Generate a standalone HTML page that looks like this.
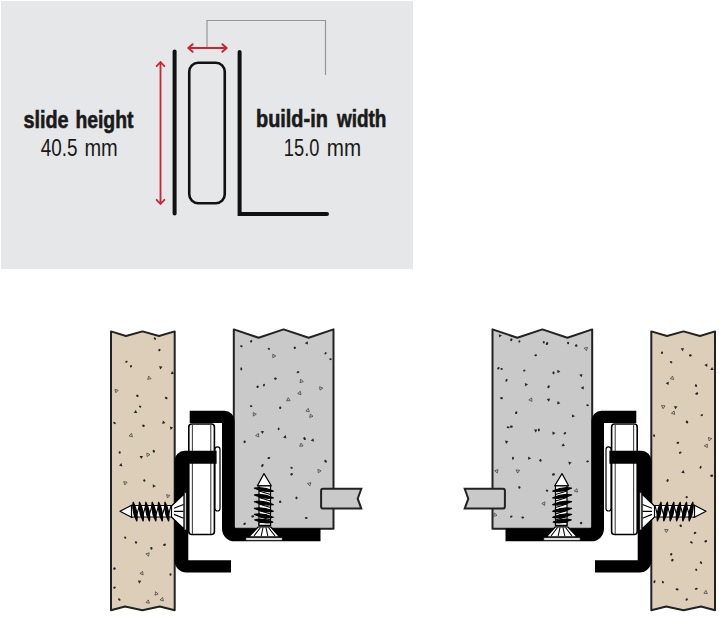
<!DOCTYPE html>
<html><head><meta charset="utf-8">
<style>
html,body{margin:0;padding:0;background:#fff;width:719px;height:617px;overflow:hidden}
svg{display:block}
text{font-family:"Liberation Sans",sans-serif}
</style></head>
<body>
<svg width="719" height="617" viewBox="0 0 719 617">
<defs>
<g id="asmA">
  <!-- wood -->
  <path d="M111,331.4 L126,336 L142.5,331.4 L159,336 L174.7,331.4 L174.7,610.2 L159.8,606.5 L142.4,610.2 L125,606.5 L111,610.2 Z" fill="#ddceba" stroke="#222" stroke-width="2" stroke-linejoin="round"/>
  <!-- gray panel -->
  <path d="M233.8,329.4 L258.6,337.7 L283.6,329.4 L308.7,337.7 L333.5,329.4 L333.5,528.8 L233.8,528.8 Z" fill="#c9c9c9" stroke="#222" stroke-width="2" stroke-linejoin="round"/>
</g>
<g id="asmB">
  <!-- tab -->
  <path d="M323,488.8 H361.3 L357.7,498.7 L361.3,508.6 H323 A2,2 0 0 1 321.1,506.6 V490.8 A2,2 0 0 1 323,488.8 Z" fill="#c9c9c9" stroke="#222" stroke-width="2"/>
  <!-- roller -->
  <rect x="188.8" y="424" width="25.6" height="110.5" rx="3" fill="#fff" stroke="#000" stroke-width="1.6"/>
  <line x1="192.4" y1="424" x2="192.4" y2="534" stroke="#444" stroke-width="1.1"/>
  <line x1="210.8" y1="424" x2="210.8" y2="534" stroke="#444" stroke-width="1.1"/>
  <rect x="215" y="446.8" width="5" height="64.2" rx="2.5" fill="#fff" stroke="#000" stroke-width="1.2"/>
  <!-- upper bracket -->
  <path d="M189.7,410.8 H224.5 A10,10 0 0 1 234.5,420.8 V525.5 A3,3 0 0 0 237.5,528.5 H320.5 V541.3 H234.5 A12.5,12.5 0 0 1 222,528.8 V423 H189.7 Z" fill="#000"/>
  <!-- lower bracket -->
  <path d="M174.5,460.9 A10.2,10.2 0 0 1 184.7,450.8 H216.6 V463.7 H188.3 V560.2 H231 V572.5 H186.5 A12,12 0 0 1 174.5,560.5 Z" fill="#000"/>
  <!-- horizontal screw -->
  <g stroke="#000" stroke-width="1.2" fill="#fff" stroke-linejoin="round">
    <path d="M120,511.3 L132,505 L132,517.5 Z"/>
    <rect x="131.5" y="505.5" width="41" height="11.5"/>
    <path d="M171.5,506 L184,494 L184,529 L171.5,517 Z"/>
    <path d="M174,508.2 L183.5,504.5 M174,511.3 L183.5,511.3 M174,514.4 L183.5,518.2" stroke-width="1.2"/>
    <rect x="184.3" y="492.6" width="2" height="37.4" stroke-width="0.8"/>
  </g>
  <g stroke="#000" stroke-width="1.1" fill="none">
    <path d="M136,517 L139.5,505.5 M142.3,517 L145.8,505.5 M148.6,517 L152.1,505.5 M155.2,517 L158.7,505.5 M161.7,517 L165.2,505.5 M168,517 L171,505.5"/>
  </g>
  <g stroke="#000" stroke-width="1.3" fill="#000" stroke-linejoin="round">
    <path d="M133.2,502.3 Q131.8,511.6 136.8,520.9 Q138.2,511.6 133.2,502.3 Z M139.5,502.3 Q138.1,511.6 143.1,520.9 Q144.5,511.6 139.5,502.3 Z M145.8,502.3 Q144.4,511.6 149.4,520.9 Q150.8,511.6 145.8,502.3 Z M152.2,502.3 Q150.8,511.6 155.8,520.9 Q157.2,511.6 152.2,502.3 Z M158.6,502.3 Q157.2,511.6 162.2,520.9 Q163.6,511.6 158.6,502.3 Z M165.0,502.3 Q163.6,511.6 168.6,520.9 Q170.0,511.6 165.0,502.3 Z"/>
  </g>
  <!-- vertical screw -->
  <g stroke="#000" stroke-width="1.2" fill="#fff" stroke-linejoin="round">
    <path d="M264,473.6 L257.4,485.8 L271.3,485.8 Z"/>
    <rect x="259" y="485.8" width="11.5" height="40"/>
    <rect x="259" y="522.4" width="11.5" height="3"/>
    <path d="M258.2,527 H270.8 L279.6,536.9 H248.8 Z"/>
    <path d="M260.5,527.5 L254,536 M263,527.5 L261.2,536 M266,527.5 L267.8,536 M268.5,527.5 L275,536" stroke-width="1.1"/>
    <rect x="245.8" y="537.7" width="36.5" height="2.6" stroke-width="0.7"/>
  </g>
  <g stroke="#000" stroke-width="1.1" fill="none">
    <path d="M259,491 L270.5,494.5 M259,497.5 L270.5,501 M259,504 L270.5,507.5 M259,510.5 L270.5,514 M259,516.5 L270.5,520"/>
  </g>
  <g stroke="#000" stroke-width="1.3" fill="#000" stroke-linejoin="round">
    <path d="M254.5,488.2 Q263.9,492.9 273.2,491.2 Q263.9,486.5 254.5,488.2 Z M254.5,494.9 Q263.9,499.6 273.2,497.9 Q263.9,493.2 254.5,494.9 Z M254.5,501.6 Q263.9,506.3 273.2,504.6 Q263.9,499.9 254.5,501.6 Z M254.5,508.3 Q263.9,513.0 273.2,511.3 Q263.9,506.6 254.5,508.3 Z M254.5,514.3 Q263.9,519.0 273.2,517.3 Q263.9,512.6 254.5,514.3 Z M254.8,519.8 Q263.9,524.0 272.8,522.2 Q263.9,518.0 254.8,519.8 Z"/>
  </g>
</g>
</defs>
<!-- top panel -->
<rect x="1" y="1" width="412" height="268" fill="#e6e7e8"/>
<path d="M207,48 V20.5 H325.5 V75" fill="none" stroke="#979797" stroke-width="1.2"/>
<g stroke="#c92532" fill="none" stroke-linecap="round" stroke-linejoin="round">
  <path d="M188.3,48 H226.7 M192.6,44.2 L188.3,48 L192.6,51.8 M222.4,44.2 L226.7,48 L222.4,51.8" stroke-width="2"/>
  <path d="M160.5,62 V204 M156.6,66.2 L160.5,62 L164.4,66.2 M156.6,199.8 L160.5,204 L164.4,199.8" stroke-width="1.8"/>
</g>
<g stroke="#111" stroke-width="4" fill="none" stroke-linecap="round">
  <path d="M174.6,51.5 V213.5"/>
  <path d="M239.6,52 V214 H327" stroke-linejoin="miter"/>
</g>
<rect x="189.25" y="62.75" width="35.5" height="140.5" rx="9" fill="none" stroke="#111" stroke-width="2.6"/>
<g fill="#1a1a1a" stroke="#1a1a1a" stroke-width="0.6" font-weight="bold" font-size="23">
<text x="23.40" y="127.5" textLength="45.11" lengthAdjust="spacingAndGlyphs">slide</text>
<text x="75.39" y="127.5" textLength="58.12" lengthAdjust="spacingAndGlyphs">height</text>
<text x="255.97" y="127.3" textLength="71.87" lengthAdjust="spacingAndGlyphs">build-in</text>
<text x="336.90" y="127.3" textLength="49.52" lengthAdjust="spacingAndGlyphs">width</text>
</g>
<g fill="#1a1a1a" font-size="24.5">
<text x="40.84" y="155.8" textLength="36.77" lengthAdjust="spacingAndGlyphs">40.5</text>
<text x="84.40" y="155.8" textLength="33.37" lengthAdjust="spacingAndGlyphs">mm</text>
<text x="283.81" y="155.8" textLength="35.60" lengthAdjust="spacingAndGlyphs">15.0</text>
<text x="326.80" y="155.8" textLength="34.33" lengthAdjust="spacingAndGlyphs">mm</text>
</g>
<!-- bottom assemblies -->
<use href="#asmA"/>
<use href="#asmA" transform="translate(826,0) scale(-1,1)"/>
<g fill="#262626"><ellipse cx="154.9" cy="338.6" rx="1.46" ry="0.92" transform="rotate(54 154.9 338.6)"/><ellipse cx="159.4" cy="350.0" rx="1.22" ry="1.05" transform="rotate(132 159.4 350.0)"/><ellipse cx="126.5" cy="361.7" rx="1.23" ry="0.93" transform="rotate(156 126.5 361.7)"/><ellipse cx="131.0" cy="366.3" rx="1.25" ry="0.97" transform="rotate(298 131.0 366.3)"/><polygon points="162.5,366.7 160.2,369.4 159.1,366.1"/><polygon points="170.7,374.2 172.0,371.0 174.1,373.8"/><polygon points="151.1,378.6 147.7,379.4 148.7,376.1" fill="none" stroke="#333" stroke-width="0.7"/><polygon points="115.8,392.7 114.9,389.4 118.2,390.3" fill="none" stroke="#333" stroke-width="0.7"/><ellipse cx="137.4" cy="395.8" rx="1.32" ry="1.14" transform="rotate(42 137.4 395.8)"/><ellipse cx="166.2" cy="398.0" rx="1.46" ry="1.01" transform="rotate(209 166.2 398.0)"/><ellipse cx="140.1" cy="406.6" rx="1.22" ry="0.96" transform="rotate(23 140.1 406.6)"/><polygon points="133.8,412.9 135.7,410.0 137.3,413.1"/><ellipse cx="114.5" cy="423.0" rx="1.38" ry="0.99" transform="rotate(211 114.5 423.0)"/><polygon points="162.9,420.6 165.5,422.9 162.2,424.0"/><ellipse cx="143.5" cy="425.7" rx="1.41" ry="1.16" transform="rotate(207 143.5 425.7)"/><polygon points="170.7,429.9 169.8,426.6 173.1,427.4"/><polygon points="132.5,436.8 129.1,436.0 131.4,433.4" fill="none" stroke="#333" stroke-width="0.7"/><ellipse cx="119.7" cy="452.4" rx="1.26" ry="1.05" transform="rotate(272 119.7 452.4)"/><ellipse cx="153.8" cy="451.3" rx="1.51" ry="1.07" transform="rotate(240 153.8 451.3)"/><polygon points="147.2,456.5 146.8,453.1 150.0,454.5" fill="none" stroke="#333" stroke-width="0.7"/><polygon points="139.6,455.9 143.1,456.1 141.2,459.0"/><polygon points="119.0,465.5 121.4,463.1 122.3,466.4"/><polygon points="127.1,482.2 124.9,484.9 123.7,481.6" fill="none" stroke="#333" stroke-width="0.7"/><ellipse cx="144.3" cy="480.5" rx="1.22" ry="1.11" transform="rotate(239 144.3 480.5)"/><polygon points="155.8,485.9 152.9,487.8 152.7,484.3"/><polygon points="167.6,498.0 166.5,494.7 169.9,495.4" fill="none" stroke="#333" stroke-width="0.7"/><ellipse cx="125.2" cy="537.6" rx="1.21" ry="1.04" transform="rotate(241 125.2 537.6)"/><ellipse cx="136.0" cy="542.4" rx="1.22" ry="1.13" transform="rotate(42 136.0 542.4)"/><ellipse cx="151.4" cy="548.3" rx="1.36" ry="1.16" transform="rotate(89 151.4 548.3)"/><ellipse cx="164.5" cy="544.8" rx="1.42" ry="1.17" transform="rotate(162 164.5 544.8)"/><polygon points="149.2,552.8 148.6,556.2 145.9,553.9" fill="none" stroke="#333" stroke-width="0.7"/><ellipse cx="114.5" cy="568.6" rx="1.34" ry="1.17" transform="rotate(149 114.5 568.6)"/><polygon points="143.1,574.9 139.9,573.5 142.7,571.5" fill="none" stroke="#333" stroke-width="0.7"/><ellipse cx="170.5" cy="574.5" rx="1.29" ry="1.05" transform="rotate(83 170.5 574.5)"/><polygon points="139.3,583.7 137.9,580.6 141.3,580.8"/><ellipse cx="114.5" cy="587.6" rx="1.35" ry="1.07" transform="rotate(151 114.5 587.6)"/><polygon points="155.5,591.7 158.2,593.9 155.0,595.2" fill="none" stroke="#333" stroke-width="0.7"/><ellipse cx="119.3" cy="599.5" rx="1.47" ry="0.92" transform="rotate(222 119.3 599.5)"/><polygon points="148.3,599.9 149.4,603.2 146.0,602.6" fill="none" stroke="#333" stroke-width="0.7"/><polygon points="162.6,597.6 163.4,601.0 160.1,599.9" fill="none" stroke="#333" stroke-width="0.7"/><ellipse cx="251.1" cy="341.3" rx="1.24" ry="1.09" transform="rotate(144 251.1 341.3)"/><ellipse cx="241.3" cy="346.2" rx="1.28" ry="0.95" transform="rotate(24 241.3 346.2)"/><ellipse cx="268.9" cy="348.8" rx="1.20" ry="0.95" transform="rotate(19 268.9 348.8)"/><ellipse cx="294.8" cy="347.8" rx="1.21" ry="1.16" transform="rotate(131 294.8 347.8)"/><polygon points="308.0,344.6 304.8,343.2 307.6,341.2"/><ellipse cx="325.6" cy="353.3" rx="1.35" ry="0.94" transform="rotate(125 325.6 353.3)"/><polygon points="275.8,355.9 272.9,357.8 272.7,354.3" fill="none" stroke="#333" stroke-width="0.7"/><ellipse cx="330.5" cy="359.2" rx="1.23" ry="0.93" transform="rotate(174 330.5 359.2)"/><ellipse cx="241.3" cy="368.9" rx="1.53" ry="0.95" transform="rotate(95 241.3 368.9)"/><ellipse cx="298.0" cy="372.1" rx="1.41" ry="0.94" transform="rotate(342 298.0 372.1)"/><ellipse cx="275.4" cy="378.6" rx="1.41" ry="1.19" transform="rotate(10 275.4 378.6)"/><polygon points="300.6,379.3 303.3,381.6 300.0,382.7" fill="none" stroke="#333" stroke-width="0.7"/><ellipse cx="257.6" cy="386.7" rx="1.27" ry="1.13" transform="rotate(132 257.6 386.7)"/><ellipse cx="264.0" cy="385.1" rx="1.33" ry="0.97" transform="rotate(280 264.0 385.1)"/><polygon points="322.8,388.1 320.0,390.1 319.6,386.7" fill="none" stroke="#333" stroke-width="0.7"/><polygon points="300.4,391.3 301.0,394.7 297.7,393.5" fill="none" stroke="#333" stroke-width="0.7"/><polygon points="288.2,397.7 290.1,400.6 286.6,400.8" fill="none" stroke="#333" stroke-width="0.7"/><ellipse cx="251.1" cy="406.2" rx="1.34" ry="0.91" transform="rotate(186 251.1 406.2)"/><ellipse cx="280.2" cy="407.8" rx="1.30" ry="1.11" transform="rotate(101 280.2 407.8)"/><polygon points="305.9,411.1 308.2,408.4 309.3,411.7" fill="none" stroke="#333" stroke-width="0.7"/><polygon points="256.3,414.1 253.4,416.1 253.2,412.7" fill="none" stroke="#333" stroke-width="0.7"/><polygon points="309.7,417.4 310.4,414.0 313.0,416.3" fill="none" stroke="#333" stroke-width="0.7"/><ellipse cx="278.6" cy="428.9" rx="1.28" ry="0.96" transform="rotate(82 278.6 428.9)"/><polygon points="264.0,430.9 262.6,434.1 260.6,431.3"/><polygon points="255.6,435.6 258.4,433.5 258.8,436.9" fill="none" stroke="#333" stroke-width="0.7"/><polygon points="285.7,435.1 286.4,438.5 283.1,437.4"/><ellipse cx="304.6" cy="438.6" rx="1.56" ry="1.13" transform="rotate(238 304.6 438.6)"/><polygon points="310.7,440.5 313.4,438.3 313.9,441.8"/><ellipse cx="244.6" cy="441.8" rx="1.33" ry="1.14" transform="rotate(284 244.6 441.8)"/><polygon points="299.7,446.3 301.0,443.1 303.1,445.9" fill="none" stroke="#333" stroke-width="0.7"/><ellipse cx="268.9" cy="458.0" rx="1.49" ry="0.95" transform="rotate(341 268.9 458.0)"/><ellipse cx="325.6" cy="461.3" rx="1.56" ry="1.14" transform="rotate(54 325.6 461.3)"/><ellipse cx="262.4" cy="465.5" rx="1.59" ry="1.10" transform="rotate(297 262.4 465.5)"/><ellipse cx="291.6" cy="467.8" rx="1.25" ry="0.90" transform="rotate(197 291.6 467.8)"/><polygon points="317.9,469.4 321.1,470.8 318.3,472.8" fill="none" stroke="#333" stroke-width="0.7"/><ellipse cx="291.6" cy="474.2" rx="1.37" ry="1.16" transform="rotate(336 291.6 474.2)"/><polygon points="309.9,485.9 307.5,483.5 310.8,482.6" fill="none" stroke="#333" stroke-width="0.7"/><ellipse cx="296.5" cy="497.9" rx="1.30" ry="1.08" transform="rotate(105 296.5 497.9)"/><ellipse cx="280.2" cy="501.8" rx="1.25" ry="1.17" transform="rotate(151 280.2 501.8)"/><ellipse cx="252.7" cy="516.4" rx="1.43" ry="1.17" transform="rotate(165 252.7 516.4)"/><ellipse cx="244.6" cy="523.8" rx="1.40" ry="1.06" transform="rotate(330 244.6 523.8)"/><ellipse cx="306.2" cy="518.0" rx="1.38" ry="0.95" transform="rotate(7 306.2 518.0)"/><ellipse cx="662.0" cy="352.7" rx="1.27" ry="1.04" transform="rotate(288 662.0 352.7)"/><polygon points="680.6,348.6 684.0,348.0 682.8,351.3"/><ellipse cx="690.4" cy="355.4" rx="1.42" ry="1.14" transform="rotate(187 690.4 355.4)"/><ellipse cx="671.1" cy="362.2" rx="1.30" ry="0.98" transform="rotate(202 671.1 362.2)"/><polygon points="704.3,365.1 707.4,363.5 707.2,367.0"/><polygon points="712.1,367.0 713.7,370.1 710.2,369.9"/><polygon points="670.3,378.8 672.5,376.1 673.7,379.4" fill="none" stroke="#333" stroke-width="0.7"/><polygon points="665.7,383.2 668.8,381.6 668.6,385.1"/><ellipse cx="696.0" cy="385.6" rx="1.38" ry="1.06" transform="rotate(249 696.0 385.6)"/><ellipse cx="696.8" cy="393.6" rx="1.48" ry="1.16" transform="rotate(339 696.8 393.6)"/><polygon points="663.1,408.7 661.5,405.6 665.0,405.8" fill="none" stroke="#333" stroke-width="0.7"/><polygon points="677.5,406.5 675.3,409.2 674.1,405.9"/><polygon points="674.7,414.4 671.4,413.3 674.1,411.0" fill="none" stroke="#333" stroke-width="0.7"/><ellipse cx="701.8" cy="415.1" rx="1.23" ry="0.97" transform="rotate(159 701.8 415.1)"/><ellipse cx="687.0" cy="422.0" rx="1.51" ry="1.17" transform="rotate(241 687.0 422.0)"/><ellipse cx="654.1" cy="435.6" rx="1.46" ry="0.94" transform="rotate(258 654.1 435.6)"/><polygon points="711.7,438.6 709.1,440.9 708.4,437.5" fill="none" stroke="#333" stroke-width="0.7"/><ellipse cx="677.9" cy="442.8" rx="1.36" ry="1.05" transform="rotate(343 677.9 442.8)"/><polygon points="707.3,444.1 707.3,447.5 704.3,445.8" fill="none" stroke="#333" stroke-width="0.7"/><ellipse cx="680.2" cy="452.6" rx="1.41" ry="1.00" transform="rotate(155 680.2 452.6)"/><ellipse cx="700.6" cy="467.3" rx="1.49" ry="0.91" transform="rotate(115 700.6 467.3)"/><polygon points="681.2,472.8 683.4,470.1 684.7,473.3"/><ellipse cx="667.6" cy="480.5" rx="1.45" ry="1.05" transform="rotate(119 667.6 480.5)"/><ellipse cx="711.7" cy="475.7" rx="1.52" ry="1.19" transform="rotate(354 711.7 475.7)"/><ellipse cx="686.7" cy="497.1" rx="1.22" ry="1.13" transform="rotate(96 686.7 497.1)"/><ellipse cx="680.7" cy="525.7" rx="1.37" ry="1.17" transform="rotate(47 680.7 525.7)"/><polygon points="666.3,532.5 664.7,529.4 668.2,529.6" fill="none" stroke="#333" stroke-width="0.7"/><ellipse cx="695.0" cy="532.9" rx="1.43" ry="1.11" transform="rotate(331 695.0 532.9)"/><ellipse cx="691.4" cy="542.4" rx="1.48" ry="1.03" transform="rotate(21 691.4 542.4)"/><ellipse cx="705.7" cy="541.2" rx="1.45" ry="1.14" transform="rotate(338 705.7 541.2)"/><ellipse cx="671.2" cy="554.3" rx="1.23" ry="1.16" transform="rotate(308 671.2 554.3)"/><ellipse cx="672.4" cy="560.2" rx="1.42" ry="1.18" transform="rotate(122 672.4 560.2)"/><ellipse cx="701.0" cy="562.6" rx="1.41" ry="0.97" transform="rotate(47 701.0 562.6)"/><ellipse cx="696.2" cy="569.8" rx="1.22" ry="0.96" transform="rotate(58 696.2 569.8)"/><ellipse cx="654.5" cy="581.7" rx="1.50" ry="0.99" transform="rotate(110 654.5 581.7)"/><ellipse cx="662.9" cy="582.1" rx="1.34" ry="0.91" transform="rotate(64 662.9 582.1)"/><ellipse cx="677.1" cy="589.3" rx="1.49" ry="1.07" transform="rotate(6 677.1 589.3)"/><ellipse cx="696.2" cy="588.8" rx="1.57" ry="0.93" transform="rotate(171 696.2 588.8)"/><polygon points="703.9,593.2 705.9,590.4 707.3,593.6" fill="none" stroke="#333" stroke-width="0.7"/><ellipse cx="686.7" cy="599.5" rx="1.36" ry="1.05" transform="rotate(300 686.7 599.5)"/><polygon points="502.0,335.6 499.2,337.6 498.8,334.2"/><ellipse cx="511.3" cy="339.7" rx="1.48" ry="1.09" transform="rotate(299 511.3 339.7)"/><ellipse cx="519.4" cy="341.4" rx="1.22" ry="0.94" transform="rotate(125 519.4 341.4)"/><ellipse cx="543.8" cy="342.3" rx="1.30" ry="0.95" transform="rotate(267 543.8 342.3)"/><ellipse cx="547.0" cy="343.6" rx="1.55" ry="1.10" transform="rotate(303 547.0 343.6)"/><ellipse cx="568.1" cy="343.0" rx="1.32" ry="1.04" transform="rotate(87 568.1 343.0)"/><ellipse cx="576.2" cy="345.6" rx="1.31" ry="1.19" transform="rotate(160 576.2 345.6)"/><polygon points="584.1,348.2 587.5,347.4 586.5,350.7" fill="none" stroke="#333" stroke-width="0.7"/><ellipse cx="535.7" cy="355.3" rx="1.32" ry="1.01" transform="rotate(347 535.7 355.3)"/><ellipse cx="498.4" cy="368.3" rx="1.39" ry="1.05" transform="rotate(137 498.4 368.3)"/><ellipse cx="501.6" cy="368.9" rx="1.20" ry="0.98" transform="rotate(182 501.6 368.9)"/><ellipse cx="524.3" cy="370.6" rx="1.22" ry="0.91" transform="rotate(144 524.3 370.6)"/><ellipse cx="553.5" cy="372.8" rx="1.43" ry="1.06" transform="rotate(84 553.5 372.8)"/><polygon points="557.3,369.8 560.4,371.4 557.5,373.3"/><polygon points="582.5,374.0 581.6,377.3 579.2,374.8"/><ellipse cx="506.5" cy="380.3" rx="1.59" ry="0.94" transform="rotate(117 506.5 380.3)"/><polygon points="524.8,382.9 528.0,384.2 525.3,386.4"/><ellipse cx="548.6" cy="386.8" rx="1.56" ry="1.09" transform="rotate(301 548.6 386.8)"/><polygon points="583.5,385.9 583.9,389.4 580.7,388.1"/><ellipse cx="501.6" cy="398.1" rx="1.40" ry="1.15" transform="rotate(188 501.6 398.1)"/><polygon points="531.7,398.0 531.9,401.5 528.8,399.9" fill="none" stroke="#333" stroke-width="0.7"/><polygon points="550.2,398.5 548.9,401.8 546.7,399.1"/><polygon points="557.7,401.1 560.4,403.3 557.1,404.5"/><ellipse cx="587.6" cy="405.3" rx="1.25" ry="1.01" transform="rotate(11 587.6 405.3)"/><ellipse cx="516.2" cy="412.7" rx="1.42" ry="1.09" transform="rotate(301 516.2 412.7)"/><polygon points="572.2,414.2 575.0,416.2 571.9,417.6"/><ellipse cx="511.3" cy="426.7" rx="1.52" ry="1.12" transform="rotate(1 511.3 426.7)"/><ellipse cx="508.1" cy="427.3" rx="1.46" ry="0.92" transform="rotate(193 508.1 427.3)"/><polygon points="535.7,432.6 534.0,429.6 537.4,429.6"/><ellipse cx="538.9" cy="429.9" rx="1.49" ry="0.96" transform="rotate(96 538.9 429.9)"/><polygon points="555.5,432.9 552.8,435.1 552.2,431.6"/><ellipse cx="564.9" cy="433.2" rx="1.39" ry="1.11" transform="rotate(138 564.9 433.2)"/><polygon points="505.0,440.6 508.4,441.3 506.1,443.9"/><polygon points="565.0,446.1 561.5,446.3 563.1,443.2"/><ellipse cx="513.0" cy="458.2" rx="1.50" ry="0.99" transform="rotate(91 513.0 458.2)"/><polygon points="531.2,458.4 528.1,459.8 528.3,456.4"/><ellipse cx="540.5" cy="460.4" rx="1.47" ry="1.11" transform="rotate(97 540.5 460.4)"/><polygon points="569.2,464.9 568.3,461.6 571.6,462.5"/><ellipse cx="587.6" cy="461.4" rx="1.39" ry="0.94" transform="rotate(167 587.6 461.4)"/><polygon points="497.3,473.0 494.7,470.7 498.0,469.6" fill="none" stroke="#333" stroke-width="0.7"/><polygon points="519.6,470.3 517.6,473.1 516.2,469.9" fill="none" stroke="#333" stroke-width="0.7"/><ellipse cx="553.5" cy="474.4" rx="1.53" ry="1.19" transform="rotate(165 553.5 474.4)"/><ellipse cx="519.4" cy="487.4" rx="1.28" ry="1.18" transform="rotate(97 519.4 487.4)"/><ellipse cx="547.0" cy="490.6" rx="1.26" ry="1.06" transform="rotate(209 547.0 490.6)"/><polygon points="577.5,492.1 574.2,491.0 576.8,488.7" fill="none" stroke="#333" stroke-width="0.7"/><polygon points="541.8,503.5 544.9,501.9 544.7,505.4" fill="none" stroke="#333" stroke-width="0.7"/><polygon points="494.5,513.0 497.0,515.4 493.7,516.4" fill="none" stroke="#333" stroke-width="0.7"/><ellipse cx="511.3" cy="516.6" rx="1.39" ry="0.91" transform="rotate(323 511.3 516.6)"/><ellipse cx="522.7" cy="517.5" rx="1.38" ry="0.99" transform="rotate(177 522.7 517.5)"/><ellipse cx="581.1" cy="523.0" rx="1.33" ry="1.15" transform="rotate(124 581.1 523.0)"/></g>
<use href="#asmB"/>
<use href="#asmB" transform="translate(826,0) scale(-1,1)"/>
</svg>
</body></html>
